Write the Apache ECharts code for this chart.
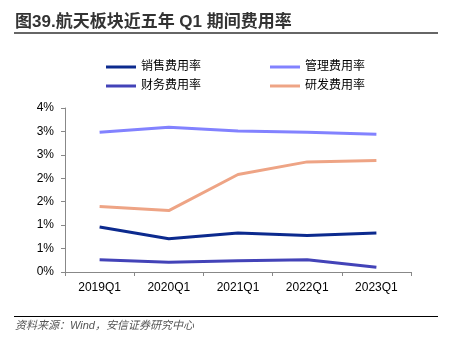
<!DOCTYPE html>
<html><head><meta charset="utf-8">
<script src="https://cdn.jsdelivr.net/npm/echarts@6/dist/echarts.min.js"></script>
<style>html,body{margin:0;padding:0;background:#fff}#c{width:457px;height:347px}</style>
</head><body><div id="c"></div>
<script>
var categories = ['2019Q1','2020Q1','2021Q1','2022Q1','2023Q1'];
var sales = [0.96, 0.71, 0.83, 0.78, 0.83];
var admin = [2.98, 3.09, 3.01, 2.98, 2.94];
var finance = [0.26, 0.21, 0.24, 0.26, 0.10];
var rnd = [1.40, 1.31, 2.08, 2.35, 2.38];
var seriesNames = ['销售费用率','管理费用率','财务费用率','研发费用率'];
var colors = ['#0c2a8e','#8282ff','#4343b8','#eea485'];
var titleText = '图39.航天板块近五年 Q1 期间费用率';
var sourceText = '资料来源：Wind，安信证券研究中心';

var font = '"Liberation Sans","Noto Sans CJK SC",sans-serif';
var chart = echarts.init(document.getElementById('c'), null, {renderer:'canvas'});
function lg(name, left, top){
  return {data:[name], left:left, top:top, icon:'rect', itemWidth:30, itemHeight:3,
    itemGap:5, textStyle:{fontSize:12, color:'#000', fontFamily:font}, selectedMode:false};
}
var datas = [sales, admin, finance, rnd];
chart.setOption({
  animation:false,
  textStyle:{fontFamily:font},
  legend:[lg(seriesNames[0],101,56), lg(seriesNames[1],265,56), lg(seriesNames[2],101,75), lg(seriesNames[3],265,75)],
  grid:{left:65, right:46, top:108, bottom:75},
  xAxis:{type:'category', data:categories, boundaryGap:true,
    axisLine:{lineStyle:{color:'#888', width:1}},
    axisTick:{show:true, length:4, lineStyle:{color:'#888'}},
    axisLabel:{fontSize:12, color:'#000', margin:10, fontFamily:font}},
  yAxis:{type:'value', min:0, max:3.5, interval:0.5,
    axisLine:{show:true, lineStyle:{color:'#888', width:1}},
    axisTick:{show:true, length:4, lineStyle:{color:'#888'}},
    splitLine:{show:false},
    axisLabel:{fontSize:12, color:'#000', margin:11, fontFamily:font,
      formatter:function(v){return Math.round(v)+'%';}}},
  series: seriesNames.map(function(n,i){
    return {name:n, type:'line', data:datas[i], symbol:'none', color:colors[i],
      lineStyle:{width:3, color:colors[i]}};
  }),
  graphic:[
    {type:'text', left:15, top:14, style:{text:titleText, fontSize:17, fontWeight:'bold', fill:'#333', fontFamily:font}},
    {type:'rect', shape:{x:14, y:32, width:424, height:2}, style:{fill:'#666'}},
    {type:'rect', shape:{x:14, y:316, width:424, height:1}, style:{fill:'#000'}},
    {type:'text', left:15, top:320, style:{text:sourceText, fontSize:11, fontStyle:'italic', fill:'#555', fontFamily:font}}
  ]
});
</script></body></html>
